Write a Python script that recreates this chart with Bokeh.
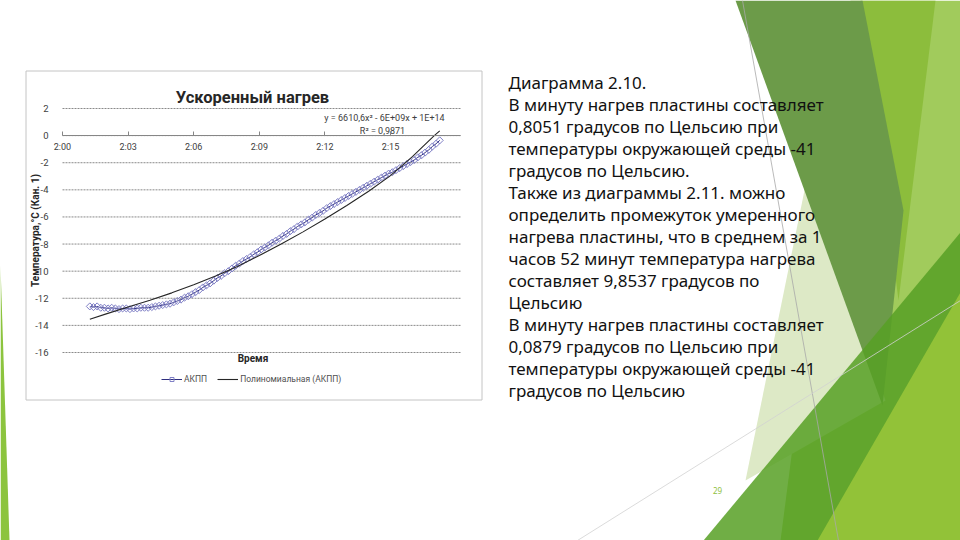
from bokeh.plotting import figure
from bokeh.models import (Range1d, FixedTicker, LinearAxis, Legend, LegendItem)
from bokeh.core.properties import value
from bokeh.embed import file_html
from bokeh.resources import INLINE

# ---------------- data ----------------
title_text = "Ускоренный нагрев"
y_axis_title = "Температура,°С (Кан. 1)"
x_axis_title = "Время"
series_name = "АКПП"
trend_name = "Полиномиальная (АКПП)"
equation_text = "y = 6610,6x² - 6E+09x + 1E+14"
r2_text = "R² = 0,9871"

x_min, x_max = 120.0, 138.2          # minutes after 0:00 (2:00 ... 2:18)
y_min, y_max = -16, 2
x_tick_minutes = [120, 123, 126, 129, 132, 135]
x_tick_labels = ["2:00", "2:03", "2:06", "2:09", "2:12", "2:15"]
y_ticks = [2, 0, -2, -4, -6, -8, -10, -12, -14, -16]
y_tick_labels = ["2", "0", "-2", "-4", "-6", "-8", "-10", "-12", "-14", "-16"]

sample_start_min = 121.25      # 2:01:15
sample_step_s = 10
temp_values = [
    -12.60, -12.65, -12.60, -12.70, -12.70, -12.75, -12.70, -12.75, -12.80, -12.75,
    -12.75, -12.80, -12.75, -12.75, -12.70, -12.70, -12.70, -12.65, -12.60, -12.55,
    -12.50, -12.45, -12.40, -12.30, -12.20, -12.10, -11.95, -11.85, -11.70, -11.55,
    -11.40, -11.20, -11.05, -10.90, -10.70, -10.50, -10.35, -10.15, -10.00, -9.80,
    -9.60, -9.45, -9.25, -9.10, -8.95, -8.75, -8.60, -8.40, -8.25, -8.10,
    -7.90, -7.75, -7.60, -7.40, -7.25, -7.05, -6.90, -6.70, -6.55, -6.40,
    -6.20, -6.05, -5.85, -5.70, -5.55, -5.35, -5.20, -5.05, -4.90, -4.75,
    -4.60, -4.45, -4.30, -4.15, -4.00, -3.85, -3.70, -3.55, -3.40, -3.25,
    -3.10, -2.95, -2.80, -2.70, -2.55, -2.40, -2.25, -2.10, -1.95, -1.80,
    -1.60, -1.45, -1.25, -1.05, -0.80, -0.60, -0.35,
]
time_min = [sample_start_min + i * sample_step_s / 60.0 for i in range(len(temp_values))]

trend_minutes = [121.25, 122, 123, 124, 125, 126, 127, 128, 129, 130,
                 131, 132, 133, 134, 135, 136, 137, 137.25]
trend_values = [-13.55, -13.15, -12.65, -12.15, -11.60, -11.00, -10.35, -9.65, -8.85, -8.00,
                -7.10, -6.15, -5.15, -4.10, -2.95, -1.55, 0.00, 0.35]

slide_lines = [
    "Диаграмма 2.10.",
    "В минуту нагрев пластины составляет",
    "0,8051 градусов по Цельсию при",
    "температуры окружающей среды -41",
    "градусов по Цельсию.",
    "Также из диаграммы 2.11. можно",
    "определить промежуток умеренного",
    "нагрева пластины, что в среднем за 1",
    "часов 52 минут температура нагрева",
    "составляет 9,8537 градусов по",
    "Цельсию",
    "В минуту нагрев пластины составляет",
    "0,0879 градусов по Цельсию при",
    "температуры окружающей среды -41",
    "градусов по Цельсию",
]
page_number = "29"

# ---------------- layout geometry (screen pixels) ----------------
W, H = 960, 540
PX0, PY0 = 0, 0
PL, PR, PT, PB = 62, 460, 108, 352       # chart plot area on the slide
kx = (PR - PL) / (x_max - x_min)
ky = (PB - PT) / (y_max - y_min)
xr = Range1d(x_min - (PL - PX0) / kx, x_max + (PX0 + W - PR) / kx)
yr = Range1d(y_min - (PY0 + H - PB) / ky, y_max + (PT - PY0) / ky)

p = figure(width=W, height=H, x_range=xr, y_range=yr,
           x_axis_location=None, y_axis_location=None, toolbar_location=None,
           output_backend="svg", min_border=0, outline_line_color=None,
           background_fill_color="white", border_fill_color="white")
p.grid.visible = False
p.extra_x_ranges = {"px": Range1d(PX0, PX0 + W)}
p.extra_y_ranges = {"px": Range1d(PY0 + H, PY0)}
PXR = dict(x_range_name="px", y_range_name="px")

# ---------------- slide decoration ----------------
shapes = [
    ([850, 960, 960, 780], [0, 0, 540, 540], "#a1cb5c", 1.0),
    ([860, 935, 898], [0, 0, 300], "#8cbd3c", 1.0),
    ([806, 885, 745], [180, 400, 480], "#dde9c6", 1.0),
    ([735, 862, 903, 882], [0, 0, 210, 405], "#6c9b49", 1.0),
    ([703, 960, 960], [540, 232, 540], "#57a025", 0.85),
    ([817, 960, 960], [540, 292, 540], "#92c238", 1.0),
    ([0, 9, 0], [265, 540, 540], "#8cc43e", 1.0),
]
for xs, ys, c, a in shapes:
    p.patch(xs, ys, fill_color=c, fill_alpha=a, line_color=None, **PXR)

p.line([742, 838], [0, 540], line_color="#a8a8a8", line_width=0.8, **PXR)
p.line([577, 960], [540, 300], line_color="#d2d2d2", line_width=0.8, **PXR)

# chart picture frame
p.quad(left=25.5, right=481.5, top=70.5, bottom=399.5, fill_color="white",
       line_color="#c4c4c4", line_width=1, **PXR)

n = len(slide_lines)
p.text(x=[508] * n, y=[82 + 22 * i for i in range(n)], text=slide_lines,
       text_font=value("Noto Sans"), text_font_size="17px", text_baseline="middle",
       text_align="left", text_color="#111111", **PXR)
p.text(x=[717], y=[490], text=[page_number], text_font=value("Noto Sans"),
       text_font_size="8px", text_baseline="middle", text_align="center",
       text_color="#8fbf3f", **PXR)

# ---------------- chart ----------------
p.segment(x0=[x_min] * len(y_ticks), x1=[x_max] * len(y_ticks), y0=y_ticks, y1=y_ticks,
          line_color="#8a8a8a", line_width=1, line_dash="2 1")

yax = LinearAxis(fixed_location=x_min, bounds=(y_min, y_max),
                 ticker=FixedTicker(ticks=y_ticks),
                 major_label_overrides=dict(zip(y_ticks, y_tick_labels)))
yax.axis_line_color = None
yax.major_tick_line_color = None
yax.minor_tick_line_color = None
yax.major_label_text_font = "Roboto"
yax.major_label_text_font_size = "9.5px"
yax.major_label_text_color = "#404040"
yax.major_label_standoff = 8
yax.axis_label = y_axis_title
yax.axis_label_text_font = "Roboto"
yax.axis_label_text_font_size = "10px"
yax.axis_label_text_font_style = "bold"
yax.axis_label_text_color = "#262626"
yax.axis_label_standoff = -9
p.add_layout(yax, "left")

xax = LinearAxis(fixed_location=0, bounds=(x_min, x_max),
                 ticker=FixedTicker(ticks=x_tick_minutes),
                 major_label_overrides=dict(zip(x_tick_minutes, x_tick_labels)))
xax.axis_line_color = "#868686"
xax.major_tick_line_color = "#868686"
xax.major_tick_in = 4
xax.major_tick_out = 0
xax.minor_tick_line_color = None
xax.major_label_text_font = "Roboto"
xax.major_label_text_font_size = "9px"
xax.major_label_text_color = "#404040"
xax.major_label_standoff = 6
p.add_layout(xax, "below")

xlab = LinearAxis(fixed_location=y_min, bounds=(x_min, x_max - 0.8),
                  ticker=FixedTicker(ticks=[]))
xlab.axis_line_color = None
xlab.major_tick_line_color = None
xlab.minor_tick_line_color = None
xlab.axis_label = x_axis_title
xlab.axis_label_text_font = "Roboto"
xlab.axis_label_text_font_size = "10px"
xlab.axis_label_text_font_style = "bold"
xlab.axis_label_text_color = "#262626"
xlab.axis_label_standoff = 0
p.add_layout(xlab, "below")

line_r = p.line(time_min, temp_values, line_color="#2f2f7f", line_width=1)
sc_r = p.scatter(time_min, temp_values, marker="square", angle=0.785, size=5,
                 fill_color=None, line_color="#8080c6", line_width=1)
trend_r = p.line(trend_minutes, trend_values, line_color="#262626", line_width=1.1)

p.text(x=[252], y=[97], text=[title_text], text_font=value("Roboto"),
       text_font_size="16.5px", text_font_style="bold", text_color="#262626",
       text_align="center", text_baseline="middle", **PXR)
p.text(x=[384, 382], y=[117, 130], text=[equation_text, r2_text],
       text_font=value("Roboto"), text_font_size="9px", text_color="#404040",
       text_align="center", text_baseline="middle", **PXR)

legend = Legend(items=[LegendItem(label=series_name, renderers=[line_r, sc_r]),
                       LegendItem(label=trend_name, renderers=[trend_r])],
                orientation="horizontal", location=(161, 156),
                border_line_color=None, background_fill_alpha=0,
                label_text_font="Roboto", label_text_font_size="8.5px",
                label_text_color="#505050", glyph_width=21, glyph_height=10,
                spacing=10, padding=2, margin=0, label_standoff=2)
p.add_layout(legend, "center")

open("out.html", "w").write(file_html(p, INLINE))
